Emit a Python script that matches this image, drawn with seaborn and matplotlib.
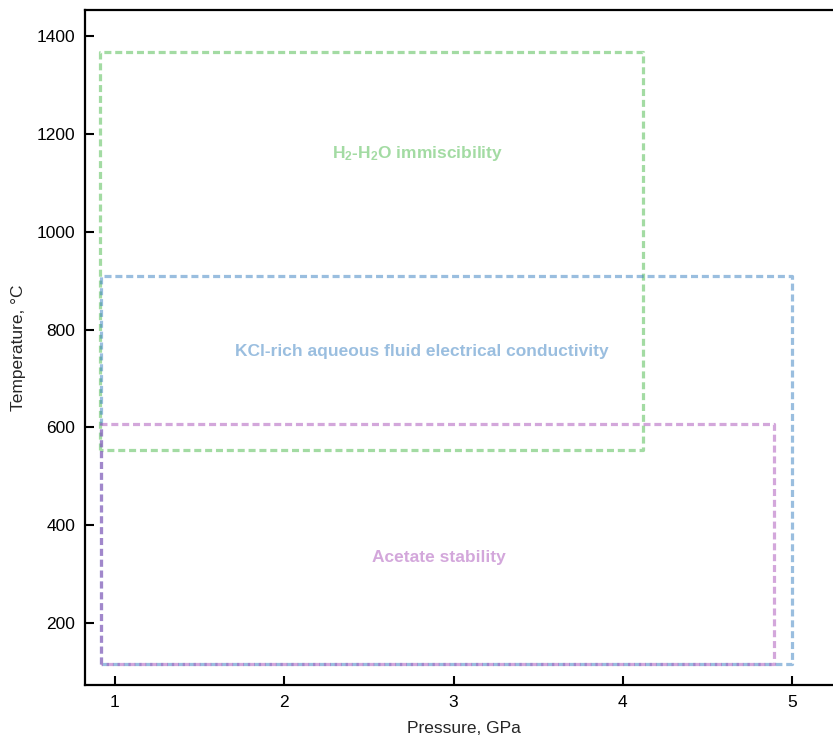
import matplotlib
matplotlib.use("Agg")
import matplotlib.pyplot as plt
import seaborn as sns
import pandas as pd

# ---- data ----
regions = ["H2-H2O immiscibility", "KCl-rich aqueous fluid electrical conductivity", "Acetate stability"]
labels = [r"H$_\mathbf{2}$-H$_\mathbf{2}$O immiscibility",
          "KCl-rich aqueous fluid electrical conductivity",
          "Acetate stability"]
p_min = [0.91, 0.92, 0.92]
p_max = [4.12, 5.00, 4.89]
t_min = [553, 116, 116]
t_max = [1367, 910, 606]
label_p = [2.79, 2.81, 2.915]
label_t = [1160, 755, 335]
x_ticks = [1, 2, 3, 4, 5]
y_ticks = [200, 400, 600, 800, 1000, 1200, 1400]

colors = ["#49b949", "#377fc1", "#a951b9"]

sns.set_theme(style="ticks")
plt.rcParams["font.family"] = ["Liberation Sans", "DejaVu Sans"]
plt.rcParams["mathtext.fontset"] = "custom"
plt.rcParams["mathtext.rm"] = "Liberation Sans:bold"
plt.rcParams["mathtext.bf"] = "Liberation Sans:bold"
plt.rcParams["mathtext.it"] = "Liberation Sans:bold"

rows = []
for name, x0, x1, y0, y1 in zip(regions, p_min, p_max, t_min, t_max):
    for i, (px, ty) in enumerate([(x0, y0), (x0, y1), (x1, y1), (x1, y0), (x0, y0)]):
        rows.append({"region": name, "order": i, "P": px, "T": ty})
df = pd.DataFrame(rows)

fig = plt.figure(figsize=(8.33, 7.40), dpi=100)
ax = fig.add_axes([85 / 833, 1 - 685 / 740, (843 - 85) / 833, 675 / 740])

for name, c in zip(regions, colors):
    sub = df[df["region"] == name]
    sns.lineplot(data=sub, x="P", y="T", sort=False, estimator=None, ax=ax,
                 color=c, alpha=0.5, linewidth=2.3, linestyle=(0, (2.2, 1.2)))

for lab, px, ty, c in zip(labels, label_p, label_t, colors):
    ax.text(px, ty, lab, color=c, alpha=0.5, fontsize=12.5, fontweight="bold",
            ha="center", va="center")

ax.set_xlim(0.823, 5.3)
ax.set_ylim(73.5, 1453)
ax.set_xticks(x_ticks)
ax.set_yticks(y_ticks)
ax.tick_params(direction="in", length=6.5, width=1.5, labelsize=12.5, pad=7, colors="black")
for s in ax.spines.values():
    s.set_linewidth(1.6)
    s.set_color("black")
ax.set_xlabel("Pressure, GPa", fontsize=12.5, labelpad=8)
ax.set_ylabel("Temperature, °C", fontsize=12.5, labelpad=8)

fig.savefig("out.png", dpi=100)
